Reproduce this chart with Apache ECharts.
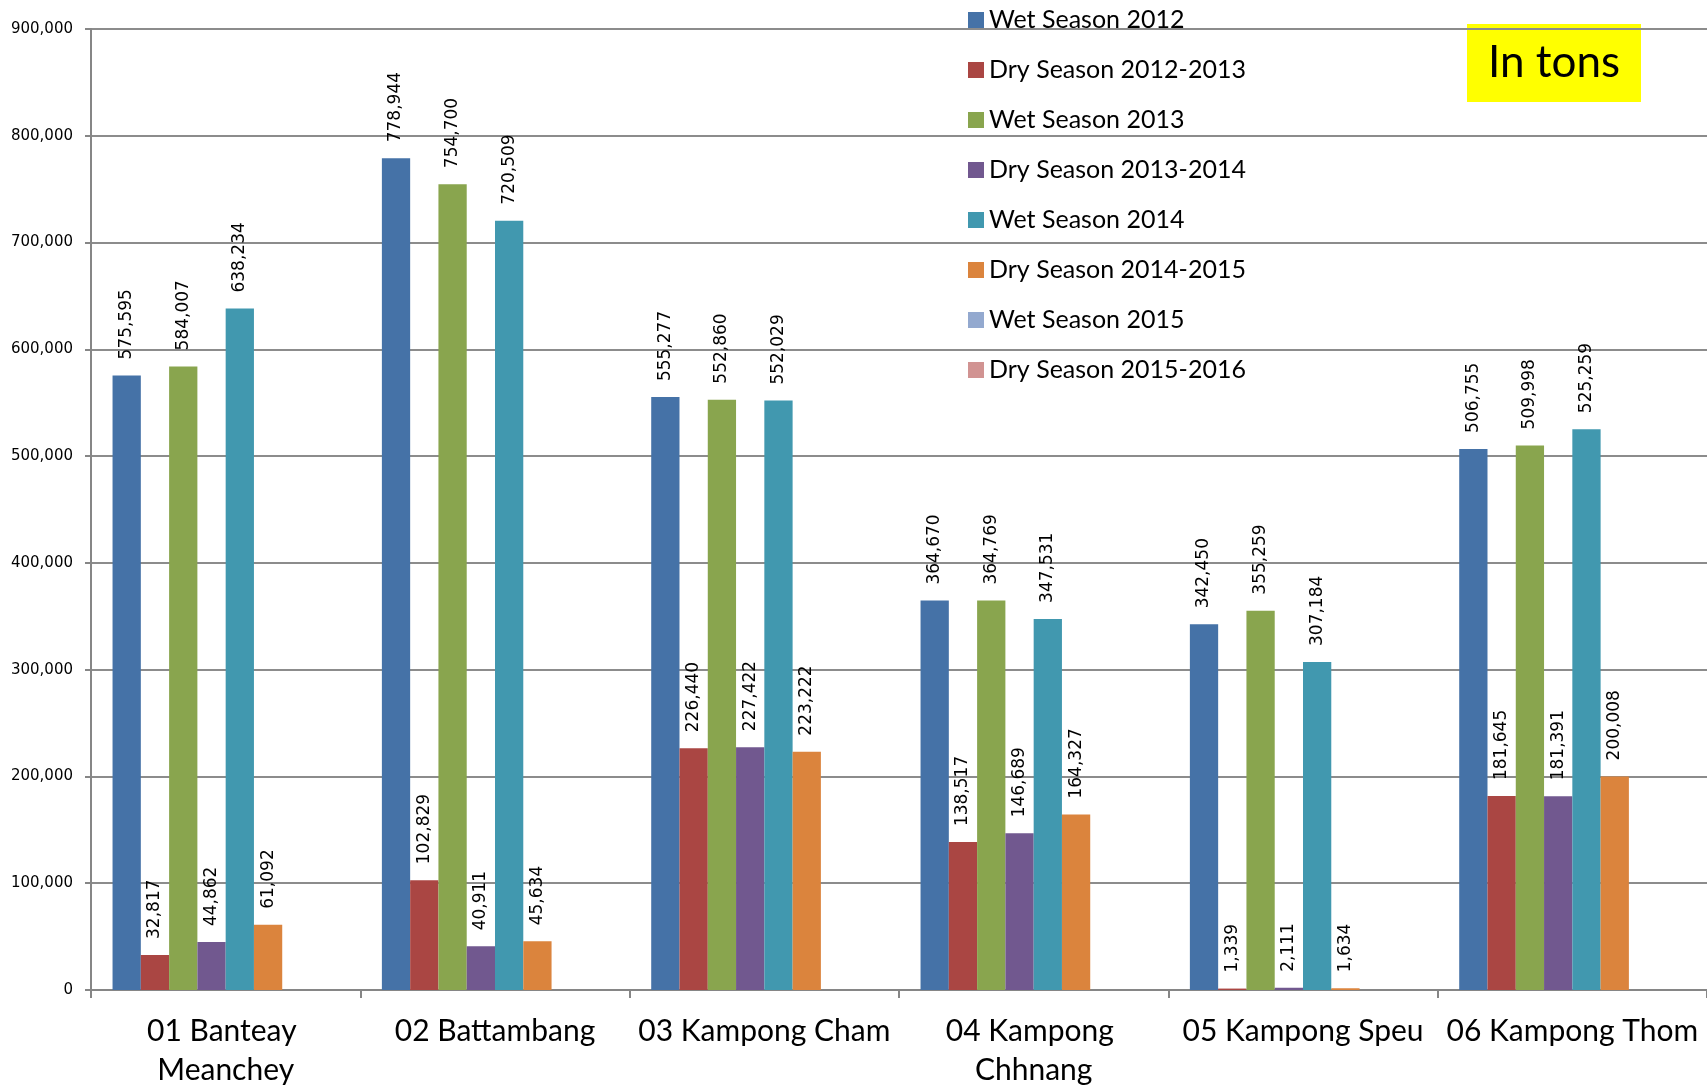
<!DOCTYPE html>
<html>
<head>
<meta charset="utf-8">
<script src="https://cdn.jsdelivr.net/npm/echarts@6/dist/echarts.min.js"></script>
<style>
html,body{margin:0;padding:0;background:#fff;}
#chart{width:1707px;height:1085px;}
</style>
</head>
<body>
<div id="chart"></div>
<script>
const categories = ["01 Banteay Meanchey", "02 Battambang", "03 Kampong Cham", "04 Kampong Chhnang", "05 Kampong Speu", "06 Kampong Thom"];
const seriesNames = ["Wet Season 2012", "Dry Season 2012-2013", "Wet Season 2013", "Dry Season 2013-2014", "Wet Season 2014", "Dry Season 2014-2015", "Wet Season 2015", "Dry Season 2015-2016"];
const wet2012 = [575595, 778944, 555277, 364670, 342450, 506755];
const dry2012_2013 = [32817, 102829, 226440, 138517, 1339, 181645];
const wet2013 = [584007, 754700, 552860, 364769, 355259, 509998];
const dry2013_2014 = [44862, 40911, 227422, 146689, 2111, 181391];
const wet2014 = [638234, 720509, 552029, 347531, 307184, 525259];
const dry2014_2015 = [61092, 45634, 223222, 164327, 1634, 200008];
const wet2015 = [null, null, null, null, null, null];
const dry2015_2016 = [null, null, null, null, null, null];
const yTicks = { min: 0, max: 900000, interval: 100000 };
const unitNote = "In tons";

const allValues = [wet2012, dry2012_2013, wet2013, dry2013_2014, wet2014, dry2014_2015, wet2015, dry2015_2016];
const colors = ["#4572A7", "#AA4643", "#89A54E", "#71588F", "#4198AF", "#DB843D", "#93A9CF", "#D19392"];

const fmt = v => Number(v).toLocaleString('en-US');

const chart = echarts.init(document.getElementById('chart'), null, {renderer: 'canvas'});
const series = seriesNames.map((name, i) => ({
  name: name,
  type: 'bar',
  data: allValues[i],
  barGap: '0%',
  barCategoryGap: '16%',
  itemStyle: { color: colors[i] },
  label: {
    show: true,
    position: 'top',
    rotate: 90,
    align: 'left',
    verticalAlign: 'middle',
    distance: 16,
    fontFamily: 'DejaVu Sans',
    fontSize: 17,
    color: '#000',
    formatter: p => p.value == null ? '' : fmt(p.value)
  }
}));

chart.setOption({
  animation: false,
  backgroundColor: '#fff',
  color: colors,
  grid: { left: 91, right: 0, top: 29, bottom: 95, containLabel: false, outerBoundsMode: 'none' },
  legend: {
    orient: 'vertical',
    left: 968,
    top: 5,
    padding: 0,
    icon: 'rect',
    itemWidth: 16,
    itemHeight: 16,
    itemGap: 20,
    textStyle: { fontFamily: 'Lato', fontSize: 25, lineHeight: 30, color: '#000' },
    data: seriesNames
  },
  xAxis: {
    type: 'category',
    data: categories,
    axisLine: { lineStyle: { color: '#868686', width: 2 } },
    axisTick: { show: true, length: 8, lineStyle: { color: '#868686', width: 2 } },
    axisLabel: {
      fontFamily: 'Lato',
      fontSize: 30,
      lineHeight: 39,
      color: '#000',
      margin: 22,
      width: 262,
      overflow: 'break',
      interval: 0
    }
  },
  yAxis: {
    type: 'value',
    min: yTicks.min,
    max: yTicks.max,
    interval: yTicks.interval,
    axisLine: { show: true, lineStyle: { color: '#868686', width: 2 } },
    axisTick: { show: true, length: 6, lineStyle: { color: '#868686', width: 2 } },
    splitLine: { lineStyle: { color: '#8c8c8c', width: 2 } },
    axisLabel: {
      fontFamily: 'DejaVu Sans',
      fontSize: 15,
      color: '#000',
      margin: 18,
      formatter: v => fmt(v)
    }
  },
  graphic: [{
    type: 'group',
    left: 1467,
    top: 24,
    children: [
      { type: 'rect', shape: { x: 0, y: 0, width: 174, height: 78 }, style: { fill: '#FFFF00' } },
      { type: 'text', x: 87, y: 39, style: { text: unitNote, fontFamily: 'Lato', fontSize: 44, fill: '#000', align: 'center', verticalAlign: 'middle' } }
    ]
  }],
  series: series
});
</script>
</body>
</html>
